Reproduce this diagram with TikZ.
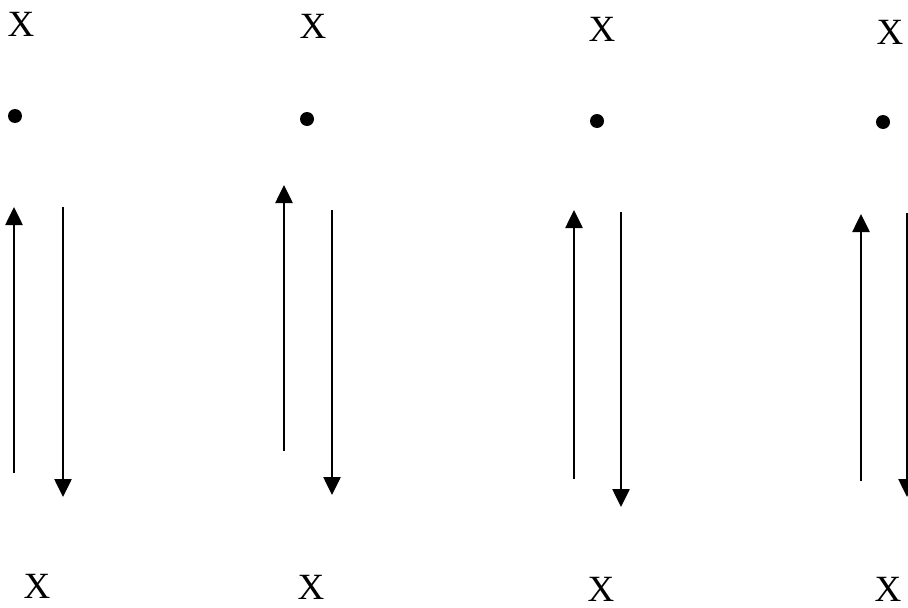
\documentclass[tikz,border=0pt]{standalone}
\usepackage{fontspec}
\setmainfont{Liberation Serif}
\usetikzlibrary{arrows.meta}
\begin{document}
\begin{tikzpicture}[x=1pt,y=-1pt,
  lbl/.style={inner sep=0pt,font=\fontsize{37}{40}\selectfont},
  pt/.style={circle,fill=black,inner sep=0pt,minimum size=14pt},
  vec/.style={line width=2.6pt,-{Triangle[width=17pt,length=18pt]}}]
\useasboundingbox (0,0) rectangle (908,608);
% column 1
\node[lbl] (t1) at (21,24) {X};
\node[pt] (d1) at (15,116) {};
\coordinate (u1s) at (14,473); \coordinate (u1e) at (14,207);
\coordinate (w1s) at (63,207); \coordinate (w1e) at (63,497);
\draw[vec] (u1s) -- (u1e);
\draw[vec] (w1s) -- (w1e);
\node[lbl] (b1) at (37,586) {X};
% column 2
\node[lbl] (t2) at (313,26) {X};
\node[pt] (d2) at (307,119) {};
\coordinate (u2s) at (284,451); \coordinate (u2e) at (284,185);
\coordinate (w2s) at (332,210); \coordinate (w2e) at (332,495);
\draw[vec] (u2s) -- (u2e);
\draw[vec] (w2s) -- (w2e);
\node[lbl] (b2) at (311,587) {X};
% column 3
\node[lbl] (t3) at (602,29) {X};
\node[pt] (d3) at (597,121) {};
\coordinate (u3s) at (574,479); \coordinate (u3e) at (574,210);
\coordinate (w3s) at (621,212); \coordinate (w3e) at (621,507);
\draw[vec] (u3s) -- (u3e);
\draw[vec] (w3s) -- (w3e);
\node[lbl] (b3) at (601,589) {X};
% column 4
\node[lbl] (t4) at (890,32) {X};
\node[pt] (d4) at (883,122) {};
\coordinate (u4s) at (861,481); \coordinate (u4e) at (861,214);
\coordinate (w4s) at (907,213); \coordinate (w4e) at (907,497);
\draw[vec] (u4s) -- (u4e);
\draw[vec] (w4s) -- (w4e);
\node[lbl] (b4) at (888,589) {X};
\end{tikzpicture}
\end{document}
